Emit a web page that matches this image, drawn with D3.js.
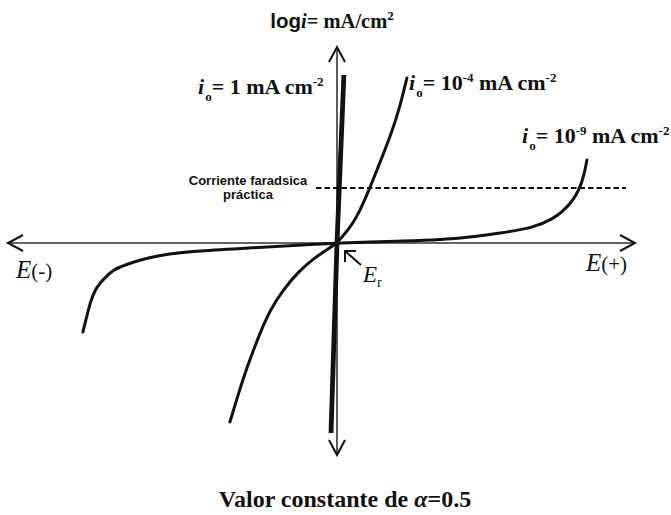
<!DOCTYPE html>
<html>
<head>
<meta charset="utf-8">
<script src="https://cdn.jsdelivr.net/npm/d3@7"></script>
<style>
  html, body { margin: 0; padding: 0; background: #fff; }
  svg { display: block; }
</style>
</head>
<body>
<script>
// Potential E (arbitrary units, 0 = Er) and log i for each exchange current density
const curveLabels = ["i0 = 1", "i0 = 1e-4", "i0 = 1e-9"];

const curveI0_1_E    = [-0.02, 0, 0.023];
const curveI0_1_logi = [-1.90, 0, 1.68];

const curveI0_4_E    = [-0.357, -0.33, -0.30, -0.257, -0.223, -0.18, -0.13, -0.08, -0.04, 0, 0.013, 0.037, 0.067, 0.107, 0.133, 0.177, 0.207, 0.233];
const curveI0_4_logi = [-1.79, -1.52, -1.24, -0.90, -0.67, -0.47, -0.29, -0.16, -0.08, 0, 0.05, 0.13, 0.26, 0.53, 0.73, 1.06, 1.33, 1.65];

const curveI0_9_E    = [-0.847, -0.833, -0.823, -0.807, -0.79, -0.767, -0.747, -0.707, -0.657, -0.59, -0.48, -0.29, -0.123, 0, 0.21, 0.343, 0.477, 0.543, 0.653, 0.72, 0.753, 0.783, 0.807, 0.823, 0.833];
const curveI0_9_logi = [-0.89, -0.72, -0.60, -0.47, -0.40, -0.33, -0.27, -0.22, -0.17, -0.12, -0.08, -0.05, -0.02, 0, 0.02, 0.03, 0.07, 0.10, 0.15, 0.24, 0.32, 0.41, 0.53, 0.67, 0.83];

// practical faradaic current level
const faradaicLogi = 0.55;
const faradaicE = [-0.07, 0.963];

const W = 671, H = 515;
const svg = d3.select("body").append("svg").attr("width", W).attr("height", H);
svg.append("rect").attr("width", W).attr("height", H).attr("fill", "#fff");

const x = d3.scaleLinear().domain([-1.1, 1.0]).range([7, 637]);
const y = d3.scaleLinear().domain([-2.12, 1.96]).range([455, 47]);

const ink = "#111";
const axisInk = "#333";

// axes through Er
const x0 = x(0), y0 = y(0);
svg.append("line").attr("x1", x.range()[0]).attr("x2", x.range()[1] - 2)
  .attr("y1", y0).attr("y2", y0).attr("stroke", axisInk).attr("stroke-width", 1.6);
svg.append("line").attr("x1", x0).attr("x2", x0)
  .attr("y1", y.range()[1]).attr("y2", y.range()[0])
  .attr("stroke", axisInk).attr("stroke-width", 1.6);

// open arrow heads
function chevron(tx, ty, dx, dy) {
  const L = 15, S = 8;
  const bx = tx - dx * L, by = ty - dy * L;
  const px = -dy, py = dx;
  svg.append("path")
    .attr("d", `M${bx + px * S},${by + py * S}L${tx},${ty}L${bx - px * S},${by - py * S}`)
    .attr("fill", "none").attr("stroke", ink).attr("stroke-width", 2);
}
chevron(x.range()[0] + 1, y0, -1, 0);
chevron(x.range()[1] - 2, y0, 1, 0);
chevron(x0, y.range()[1], 0, -1);
chevron(x0, y.range()[0], 0, 1);

// dashed practical faradaic current line
svg.append("line")
  .attr("x1", x(faradaicE[0])).attr("x2", x(faradaicE[1]))
  .attr("y1", y(faradaicLogi)).attr("y2", y(faradaicLogi))
  .attr("stroke", ink).attr("stroke-width", 2).attr("stroke-dasharray", "5.5,3");

const smooth = d3.line().x(d => x(d[0])).y(d => y(d[1])).curve(d3.curveBasis);
const straight = d3.line().x(d => x(d[0])).y(d => y(d[1]));

const zip = (a, b) => a.map((v, i) => [v, b[i]]);
svg.append("path").datum(zip(curveI0_1_E, curveI0_1_logi)).attr("d", straight)
  .attr("fill", "none").attr("stroke", ink).attr("stroke-width", 4.8);
svg.append("path").datum(zip(curveI0_4_E, curveI0_4_logi)).attr("d", smooth)
  .attr("fill", "none").attr("stroke", ink).attr("stroke-width", 3).attr("stroke-linecap", "round");
svg.append("path").datum(zip(curveI0_9_E, curveI0_9_logi)).attr("d", smooth)
  .attr("fill", "none").attr("stroke", ink).attr("stroke-width", 3).attr("stroke-linecap", "round");

const serif = "Liberation Serif, Times New Roman, serif";
const sans = "Liberation Sans, Arial, sans-serif";

// vertical axis title
const t = svg.append("text").attr("x", 332).attr("y", 28).attr("text-anchor", "middle")
  .attr("font-family", serif).attr("font-weight", "bold").attr("font-size", 20.5).attr("fill", ink);
t.append("tspan").attr("font-family", sans).text("log");
t.append("tspan").attr("font-style", "italic").text("i");
t.append("tspan").text("= mA/cm");
t.append("tspan").attr("font-size", 13).attr("dy", -8).text("2");

// exchange current labels
function i0Label(xp, yp, exp) {
  const g = svg.append("text").attr("x", xp).attr("y", yp)
    .attr("font-family", serif).attr("font-weight", "bold").attr("font-size", 22).attr("fill", ink);
  g.append("tspan").attr("font-style", "italic").text("i");
  g.append("tspan").attr("font-size", 13).attr("dx", 1).attr("dy", 7).text("o");
  if (exp === null) {
    g.append("tspan").attr("dy", -7).text("= 1 mA cm");
  } else {
    g.append("tspan").attr("dy", -7).text("= 10");
    g.append("tspan").attr("font-size", 13).attr("dy", -8).text(exp);
    g.append("tspan").attr("dy", 8).text(" mA cm");
  }
  g.append("tspan").attr("font-size", 13).attr("dy", -8).text("-2");
}
i0Label(198, 94, null);
i0Label(409, 90, "-4");
i0Label(522, 143, "-9");

// practical faradaic current caption
const fc = svg.append("text").attr("text-anchor", "middle").attr("font-family", sans)
  .attr("font-weight", "bold").attr("font-size", 13).attr("fill", ink);
fc.append("tspan").attr("x", 248).attr("y", 185).text("Corriente faradsica");
fc.append("tspan").attr("x", 248).attr("y", 199).text("práctica");

// potential direction labels
function eLabel(xp, yp, sign) {
  const g = svg.append("text").attr("x", xp).attr("y", yp)
    .attr("font-family", serif).attr("font-size", 25).attr("fill", ink);
  g.append("tspan").attr("font-style", "italic").text("E");
  g.append("tspan").attr("font-size", 21).text("(" + sign + ")");
}
eLabel(16, 278, "-");
eLabel(586, 271, "+");

// rest potential marker
const er = svg.append("text").attr("x", 363).attr("y", 282)
  .attr("font-family", serif).attr("font-size", 23).attr("fill", ink);
er.append("tspan").attr("font-style", "italic").text("E");
er.append("tspan").attr("font-size", 14).attr("dy", 5).text("r");
svg.append("path").attr("d", `M361,265L${x0 + 8},${y0 + 8}`)
  .attr("fill", "none").attr("stroke", ink).attr("stroke-width", 2);
svg.append("path").attr("d", `M${x0 + 8},${y0 + 19}L${x0 + 8},${y0 + 8}L${x0 + 19},${y0 + 8}`)
  .attr("fill", "none").attr("stroke", ink).attr("stroke-width", 2);

// bottom caption
const cap = svg.append("text").attr("x", 345).attr("y", 507).attr("text-anchor", "middle")
  .attr("font-family", serif).attr("font-weight", "bold").attr("font-size", 24).attr("fill", ink);
cap.append("tspan").text("Valor constante de ");
cap.append("tspan").attr("font-style", "italic").text("α");
cap.append("tspan").text("=0.5");
</script>
</body>
</html>
